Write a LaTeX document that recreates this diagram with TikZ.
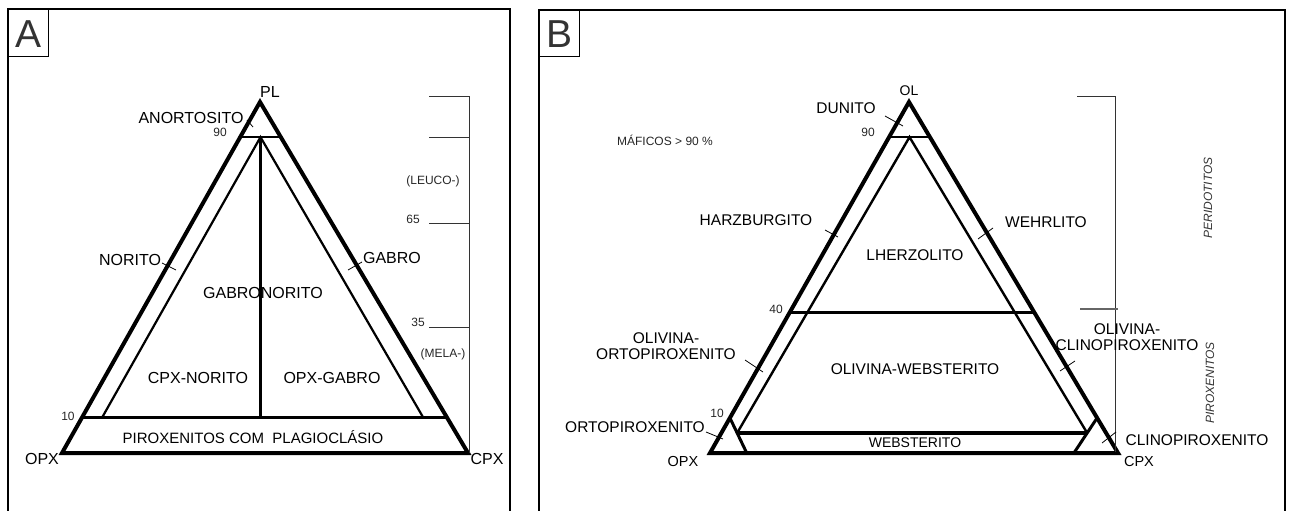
\documentclass[tikz,border=0pt]{standalone}
\usepackage{fontspec}
\setmainfont{Liberation Sans}
\usetikzlibrary{calc}
\begin{document}
\begin{tikzpicture}[x=1pt, y=-1pt]
%styles
\tikzstyle{textRock}=[inner sep=0pt, text depth=0pt, text=black, font=\fontsize{16}{17}\selectfont]
\tikzstyle{textRockB}=[inner sep=0pt, text depth=0pt, text=black, font=\fontsize{15.5}{16.5}\selectfont]
\tikzstyle{textNum}=[inner sep=0pt, text depth=0pt, text=black!85, font=\fontsize{12}{13}\selectfont]
\tikzstyle{textSide}=[inner sep=0pt, text depth=0pt, text=black!80, font=\fontsize{12}{13}\selectfont\itshape, rotate=90]
\tikzstyle{textLetter}=[inner sep=0pt, text depth=0pt, text=black!80, font=\fontsize{39}{40}\selectfont]
\tikzstyle{outerTri}=[line width=4pt, line join=miter]
\tikzstyle{limit}=[line width=2.5pt]
\tikzstyle{tick}=[line width=0.8pt]
\tikzstyle{scaleLine}=[line width=0.8pt, black!80]
\tikzstyle{frame}=[line width=2pt]

\useasboundingbox (0,0) rectangle (1293,511);

%frames and panel letters
\draw[frame] (8,511) -- (8,9) -- (510,9) -- (510,511);
\draw[frame] (539,511) -- (539,10) -- (1285,10) -- (1285,511);
\draw[line width=1pt] (8,9) rectangle (48,57);
\draw[line width=1pt] (539,10) rectangle (579,57);
\node[textLetter] (letA) at (29,34) {A};
\node[textLetter] (letB) at (559,34) {B};

%%%%% A : PL - OPX - CPX
\coordinate (pl) at (260,102);
\coordinate (opxA) at (62,453);
\coordinate (cpxA) at (468,453);
\coordinate (a90l) at ($(pl)!0.1!(opxA)$);
\coordinate (a90r) at ($(pl)!0.1!(cpxA)$);
\coordinate (a10l) at ($(pl)!0.9!(opxA)$);
\coordinate (a10r) at ($(pl)!0.9!(cpxA)$);
\coordinate (a90m) at ($(a90l)!0.5!(a90r)$);
\coordinate (ainl) at ($(a10l)!0.055!(a10r)$);
\coordinate (ainr) at ($(a10l)!0.935!(a10r)$);
\draw[outerTri] (pl) -- (opxA) -- (cpxA) -- cycle;
\draw[limit] (a90l) -- (a90r);
\draw[limit, line width=3pt] (a10l) -- (a10r);
\draw[line width=2.2pt] (ainl) -- (a90m) -- (ainr);
\draw[line width=2.2pt] (a90m) -- (a90m |- a10l);

% % modal scale
\draw[scaleLine] (469,96) -- (469,453);
\foreach \yy in {96,137,223,327}
  \draw[scaleLine] (429,\yy) -- (469,\yy);
\node[textNum] (leuco) at (433,180) {(LEUCO-)};
\node[textNum] (n65) at (413,219) {65};
\node[textNum] (n35) at (418,322) {35};
\node[textNum] (mela) at (443,353) {(MELA-)};

% % names
\node[textRock] (plA) at (270,92) {PL};
\node[textRock] (anort) at (191,118) {ANORTOSITO};
\node[textNum] (n90A) at (220,132) {90};
\node[textNum] (n10A) at (68,416) {10};
\node[textRock] (norit) at (130,260) {NORITO};
\node[textRock] (gabro) at (392,258) {GABRO};
\node[textRock] (gabnor) at (263,293) {GABRONORITO};
\node[textRock] (cpxnor) at (198,378) {CPX-NORITO};
\node[textRock] (opxgab) at (332,378) {OPX-GABRO};
\node[textRock, font=\fontsize{15}{16}\selectfont] (pirpl) at (253,437) {PIROXENITOS COM\ \ PLAGIOCLÁSIO};
\node[textRock] (opxlA) at (42,459) {OPX};
\node[textRock] (cpxlA) at (487,459) {CPX};
\coordinate (tAn1) at (247,120); \coordinate (tAn2) at (253,127);
\coordinate (tNo1) at (162,263); \coordinate (tNo2) at (176,270);
\coordinate (tGa1) at (362,262); \coordinate (tGa2) at (348,270);
\draw[tick] (tAn1) -- (tAn2);
\draw[tick] (tNo1) -- (tNo2);
\draw[tick] (tGa1) -- (tGa2);

%%%%% B : OL - OPX - CPX
\coordinate (ol) at (909,102);
\coordinate (opxB) at (710,453);
\coordinate (cpxB) at (1118,453);
\coordinate (b90l) at ($(ol)!0.1!(opxB)$);
\coordinate (b90r) at ($(ol)!0.1!(cpxB)$);
\coordinate (b40l) at ($(ol)!0.6!(opxB)$);
\coordinate (b40r) at ($(ol)!0.6!(cpxB)$);
\coordinate (b10l) at ($(ol)!0.9!(opxB)$);
\coordinate (b10r) at ($(ol)!0.9!(cpxB)$);
\coordinate (bbl) at ($(opxB)!0.09!(cpxB)$);
\coordinate (bbr) at ($(cpxB)!0.108!(opxB)$);
\coordinate (b90m) at ($(b90l)!0.5!(b90r)$);
\coordinate (wl) at ($(b10l)!0.43!(bbl)$);
\coordinate (wr) at ($(b10r)!0.43!(bbr)$);
\draw[outerTri] (ol) -- (opxB) -- (cpxB) -- cycle;
\draw[limit] (b90l) -- (b90r);
\draw[limit] (b40l) -- (b40r);
\draw[line width=3pt] (b10l) -- (bbl);
\draw[line width=3pt] (b10r) -- (bbr);
\draw[line width=3.5pt] (wl) -- (wr);
\draw[line width=2.4pt] (wl) -- (b90m) -- (wr);

% % bracket
\draw[scaleLine] (1115,96) -- (1115,452);
\draw[scaleLine] (1077,96) -- (1115,96);
\draw[line width=1.5pt, black!60] (1080,309) -- (1118,309);
\node[textSide] (perid) at (1208,198) {PERIDOTITOS};
\node[textSide] (pirox) at (1210,383) {PIROXENITOS};

% % names
\node[textRockB, font=\fontsize{14}{15}\selectfont] (olB) at (909,91) {OL};
\node[textRockB] (dunit) at (846,108) {DUNITO};
\node[textNum] (n90B) at (868,132) {90};
\node[textNum] (maf) at (665,140) {MÁFICOS > 90 \%};
\node[textRockB] (harz) at (756,220) {HARZBURGITO};
\node[textRockB] (wehr) at (1046,222) {WEHRLITO};
\node[textRockB] (lherz) at (915,255) {LHERZOLITO};
\node[textNum] (n40B) at (776,309) {40};
\node[textRockB, align=center] (olort) at (666,346) {OLIVINA-\\ORTOPIROXENITO};
\node[textRockB] (olweb) at (915,369) {OLIVINA-WEBSTERITO};
\node[textRockB, align=center] (olcli) at (1127,337) {OLIVINA-\\CLINOPIROXENITO};
\node[textNum] (n10B) at (717,413) {10};
\node[textRockB] (ortop) at (635,427) {ORTOPIROXENITO};
\node[textRockB, font=\fontsize{14}{15}\selectfont] (webst) at (915,443) {WEBSTERITO};
\node[textRockB] (clinop) at (1197,440) {CLINOPIROXENITO};
\node[textRockB, font=\fontsize{14.5}{15}\selectfont] (opxlB) at (683,461) {OPX};
\node[textRockB, font=\fontsize{14.5}{15}\selectfont] (cpxlB) at (1139,461) {CPX};
\coordinate (tDu1) at (885,116); \coordinate (tDu2) at (903,126);
\coordinate (tHa1) at (825,230); \coordinate (tHa2) at (838,237);
\coordinate (tWe1) at (993,228); \coordinate (tWe2) at (978,239);
\coordinate (tOo1) at (745,360); \coordinate (tOo2) at (763,372);
\coordinate (tOc1) at (1075,361); \coordinate (tOc2) at (1060,371);
\coordinate (tOp1) at (706,432); \coordinate (tOp2) at (723,439);
\coordinate (tCp1) at (1116,432); \coordinate (tCp2) at (1102,443);
\foreach \ta/\tb in {tDu1/tDu2, tHa1/tHa2, tWe1/tWe2, tOo1/tOo2, tOc1/tOc2, tOp1/tOp2, tCp1/tCp2}
  \draw[tick] (\ta) -- (\tb);

\end{tikzpicture}
\end{document}
